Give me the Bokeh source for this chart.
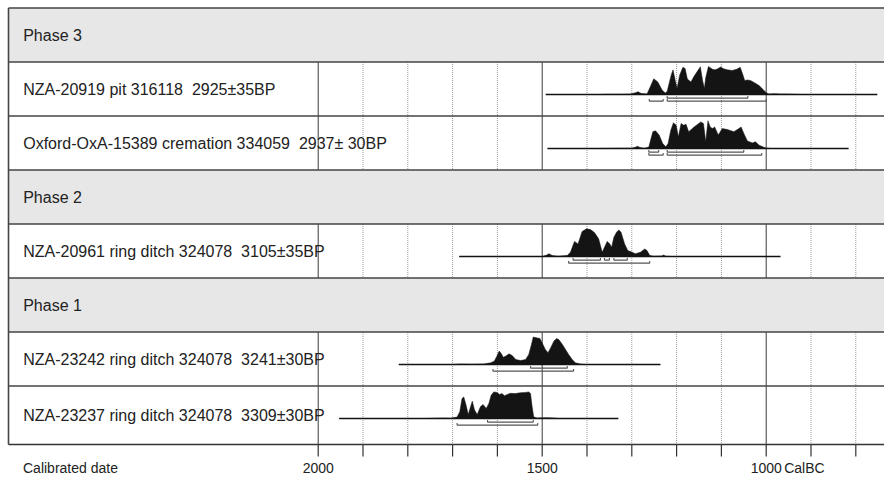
from bokeh.plotting import figure
from bokeh.models import Range1d
from bokeh.embed import file_html
from bokeh.resources import INLINE
from bokeh.core.properties import value

# ---------------- data ----------------
row_kinds = ["header", "date", "date", "header", "date", "header", "date", "date"]
row_labels = [
    "Phase 3",
    "NZA-20919 pit 316118\u00a0 2925\u00b135BP",
    "Oxford-OxA-15389 cremation 334059\u00a0 2937\u00b1 30BP",
    "Phase 2",
    "NZA-20961 ring ditch 324078\u00a0 3105\u00b135BP",
    "Phase 1",
    "NZA-23242 ring ditch 324078\u00a0 3241\u00b130BP",
    "NZA-23237 ring ditch 324078\u00a0 3309\u00b130BP",
]

tick_years = [2000, 1900, 1800, 1700, 1600, 1500, 1400, 1300, 1200, 1100, 1000, 900, 800]
label_years = [2000, 1500, 1000]
label_text = ["2000", "1500", "1000"]
axis_title = "Calibrated date"
axis_unit = "CalBC"

# NZA-20919 (cal BC, relative probability)
d1_years = [1492, 1373, 1355, 1320, 1303, 1292, 1286, 1279, 1266, 1258, 1251, 1242, 1232, 1225, 1221,
            1212, 1208, 1203, 1199, 1193, 1186, 1181, 1176, 1168, 1161, 1154, 1147, 1142, 1138, 1135,
            1129, 1124, 1120, 1114, 1108, 1102, 1095, 1087, 1076, 1066, 1058, 1053, 1048, 1042, 1035,
            1024, 1016, 1007, 1000, 994, 983, 968, 953, 938, 916]
d1_prob = [0, 0, 0.01, 0.01, 0.02, 0.06, 0.1, 0.04, 0.02, 0.3, 0.56, 0.45, 0.15, 0.05, 0.12,
           0.7, 0.88, 0.5, 0.22, 0.7, 0.97, 0.93, 0.55, 0.45, 0.65, 0.82, 0.99, 0.5, 0.22, 0.6,
           1.0, 0.95, 0.9, 0.88, 0.92, 0.98, 0.92, 0.88, 0.86, 0.9, 0.97, 0.75, 0.5, 0.52, 0.5,
           0.4, 0.32, 0.18, 0.06, 0.02, 0.03, 0.02, 0.02, 0.01, 0]
d1_span = (1492, 752)
d1_hpd68 = [(1221, 1041)]
d1_hpd95 = [(1261, 1230), (1221, 1000)]

# Oxford-OxA-15389
d2_years = [1488, 1380, 1330, 1300, 1291, 1287, 1282, 1272, 1262, 1258, 1253, 1247, 1239, 1231, 1224,
            1219, 1213, 1207, 1201, 1196, 1190, 1184, 1179, 1173, 1161, 1146, 1140, 1135, 1130, 1125,
            1120, 1115, 1107, 1098, 1087, 1072, 1061, 1056, 1050, 1042, 1031, 1024, 1016, 1001, 990]
d2_prob = [0, 0, 0.01, 0.01, 0.05, 0.08, 0.04, 0.01, 0.05, 0.3, 0.6, 0.63, 0.48, 0.18, 0.06,
           0.18, 0.65, 0.92, 0.83, 0.42, 0.89, 0.83, 0.87, 0.6, 0.77, 0.95, 0.89, 0.24, 0.99, 0.77,
           0.71, 0.77, 0.48, 0.71, 0.68, 0.6, 0.71, 0.77, 0.54, 0.27, 0.2, 0.24, 0.12, 0.02, 0]
d2_span = (1488, 816)
d2_hpd68 = [(1262, 1240), (1221, 1050)]
d2_hpd95 = [(1262, 1230), (1221, 1010)]

# NZA-20961
d3_years = [1685, 1500, 1490, 1485, 1478, 1465, 1444, 1437, 1428, 1420, 1411, 1401, 1392, 1383, 1374,
            1366, 1361, 1355, 1349, 1345, 1340, 1334, 1329, 1324, 1316, 1309, 1299, 1292, 1281, 1271,
            1266, 1260, 1251, 1233, 1229, 1224, 1210]
d3_prob = [0, 0, 0.05, 0.1, 0.04, 0.01, 0.04, 0.15, 0.54, 0.45, 0.89, 0.99, 0.96, 0.85, 0.63,
           0.15, 0.33, 0.54, 0.45, 0.33, 0.69, 0.87, 0.95, 0.87, 0.45, 0.21, 0.15, 0.1, 0.15, 0.27,
           0.21, 0.04, 0.01, 0.02, 0.05, 0.01, 0]
d3_span = (1685, 968)
d3_hpd68 = [(1431, 1370), (1361, 1350), (1340, 1310)]
d3_hpd95 = [(1441, 1260)]

# NZA-23242
d4_years = [1820, 1700, 1681, 1660, 1630, 1615, 1607, 1601, 1596, 1591, 1587, 1581, 1574, 1567, 1559,
            1548, 1537, 1530, 1524, 1520, 1511, 1505, 1500, 1493, 1487, 1481, 1474, 1468, 1463, 1456,
            1448, 1441, 1433, 1426, 1415, 1404]
d4_prob = [0, 0, 0.02, 0.01, 0.02, 0.06, 0.12, 0.3, 0.48, 0.38, 0.26, 0.3, 0.38, 0.32, 0.18,
           0.14, 0.18, 0.36, 0.71, 0.98, 0.95, 0.93, 0.77, 0.54, 0.42, 0.6, 0.83, 0.93, 0.89, 0.74,
           0.54, 0.36, 0.18, 0.06, 0.02, 0]
d4_span = (1820, 1236)
d4_hpd68 = [(1526, 1444)]
d4_hpd95 = [(1610, 1430)]

# NZA-23237
d5_years = [1953, 1760, 1742, 1720, 1705, 1690, 1684, 1679, 1675, 1670, 1665, 1660, 1656, 1651, 1645,
            1638, 1632, 1625, 1619, 1614, 1608, 1601, 1595, 1590, 1584, 1578, 1571, 1560, 1549, 1538,
            1530, 1526, 1523, 1519, 1512, 1489, 1474, 1463]
d5_prob = [0, 0, 0.01, 0.02, 0.01, 0.05, 0.24, 0.71, 0.77, 0.48, 0.14, 0.42, 0.62, 0.3, 0.14,
           0.42, 0.5, 0.36, 0.54, 0.83, 0.95, 0.93, 0.86, 0.89, 0.81, 0.86, 0.9, 0.89, 0.92, 0.93,
           0.95, 0.89, 0.48, 0.06, 0.02, 0.03, 0.02, 0]
d5_span = (1953, 1330)
d5_hpd68 = [(1622, 1520)]
d5_hpd95 = [(1690, 1510)]

samples = {
    1: (d1_years, d1_prob, d1_span, d1_hpd68, d1_hpd95),
    2: (d2_years, d2_prob, d2_span, d2_hpd68, d2_hpd95),
    4: (d3_years, d3_prob, d3_span, d3_hpd68, d3_hpd95),
    6: (d4_years, d4_prob, d4_span, d4_hpd68, d4_hpd95),
    7: (d5_years, d5_prob, d5_span, d5_hpd68, d5_hpd95),
}

# ---------------- layout ----------------
W, H = 884, 477
AXIS_Y = 444
PPY = 0.448            # pixels per year
X2000 = 317.7          # pixel position of 2000 BC
x_start = 2000 + X2000 / PPY
x_end = x_start - W / PPY


def px2yr(px):
    return x_start - px / PPY


TOP = 7.5
ROW_H = 54
LEFT = px2yr(8)
RIGHT = x_end - 20
PEAK = 28
FONT = value("Liberation Sans")

p = figure(width=W, height=H, x_range=Range1d(x_start, x_end), y_range=Range1d(H, 0),
           output_backend="svg", toolbar_location=None,
           x_axis_location=None, y_axis_location=None,
           min_border_left=0, min_border_right=0, min_border_top=0, min_border_bottom=0)
p.outline_line_color = None
p.grid.visible = False
p.background_fill_color = "white"
p.border_fill_color = "white"

# vertical grid lines
solid = [t for t in tick_years if t % 500 == 0]
dotted = [t for t in tick_years if t % 500 != 0]
p.segment(x0=dotted, x1=dotted, y0=[TOP] * len(dotted), y1=[AXIS_Y] * len(dotted),
          line_color="#9a9a9a", line_width=1, line_dash="1 1")
p.segment(x0=solid, x1=solid, y0=[TOP] * len(solid), y1=[AXIS_Y] * len(solid),
          line_color="#3a3a3a", line_width=1)

row_tops = [TOP + i * ROW_H for i in range(len(row_labels))]
row_bottoms = row_tops[1:] + [AXIS_Y]

# header boxes
hi = [i for i, k in enumerate(row_kinds) if k == "header"]
p.quad(left=[LEFT] * len(hi), right=[RIGHT] * len(hi),
       top=[row_tops[i] for i in hi], bottom=[row_bottoms[i] for i in hi],
       fill_color="#e6e7e6", line_color=None)

# row borders
p.segment(x0=[LEFT] * len(row_tops), x1=[RIGHT] * len(row_tops), y0=row_tops, y1=row_tops,
          line_color="#454545", line_width=1.6)
p.segment(x0=[LEFT], x1=[LEFT], y0=[TOP], y1=[AXIS_Y], line_color="#454545", line_width=1.6)

# distributions
pxs, pys = [], []
bx0, bx1, by = [], [], []
bxs, bys = [], []
for i, (yrs, prob, span, h68, h95) in samples.items():
    base = row_tops[i] + 32.5
    pxs.append([yrs[0]] + list(yrs) + [yrs[-1]])
    pys.append([base] + [base - v * PEAK for v in prob] + [base])
    bx0.append(span[0]); bx1.append(span[1]); by.append(base)
    for (a, b) in h68:
        y = base + 3.6
        bxs.append([a, a, b, b]); bys.append([y - 2, y, y, y - 2])
    for (a, b) in h95:
        y = base + 6.6
        bxs.append([a, a, b, b]); bys.append([y - 2, y, y, y - 2])

p.segment(x0=bx0, x1=bx1, y0=by, y1=by, line_color="#111111", line_width=1.4)
p.patches(xs=pxs, ys=pys, fill_color="#141414", line_color="#141414", line_width=0.5)
p.multi_line(xs=bxs, ys=bys, line_color="#555555", line_width=1.1)

# row labels
p.text(x=[LEFT] * len(row_labels), y=[(t + b) / 2 for t, b in zip(row_tops, row_bottoms)],
       text=row_labels, x_offset=14.7, text_baseline="middle", text_align="left",
       text_font=FONT, text_font_size="16px", text_color="#222222")

# time axis
p.segment(x0=[LEFT], x1=[RIGHT], y0=[AXIS_Y], y1=[AXIS_Y], line_color="#333333", line_width=1.5)
p.segment(x0=tick_years, x1=tick_years, y0=[AXIS_Y] * len(tick_years),
          y1=[AXIS_Y + 12] * len(tick_years), line_color="#333333", line_width=1.2)
LABEL_Y = AXIS_Y + 23
p.text(x=label_years, y=[LABEL_Y] * len(label_years), text=label_text,
       text_align="center", text_baseline="middle",
       text_font=FONT, text_font_size="14px", text_color="#222222")
p.text(x=[1000], y=[LABEL_Y], text=[axis_unit], x_offset=18, text_align="left",
       text_baseline="middle", text_font=FONT, text_font_size="14px", text_color="#222222")
p.text(x=[LEFT], y=[LABEL_Y], text=[axis_title], x_offset=14.5, text_align="left",
       text_baseline="middle", text_font=FONT, text_font_size="14px", text_color="#222222")

open("out.html", "w").write(file_html(p, INLINE))
